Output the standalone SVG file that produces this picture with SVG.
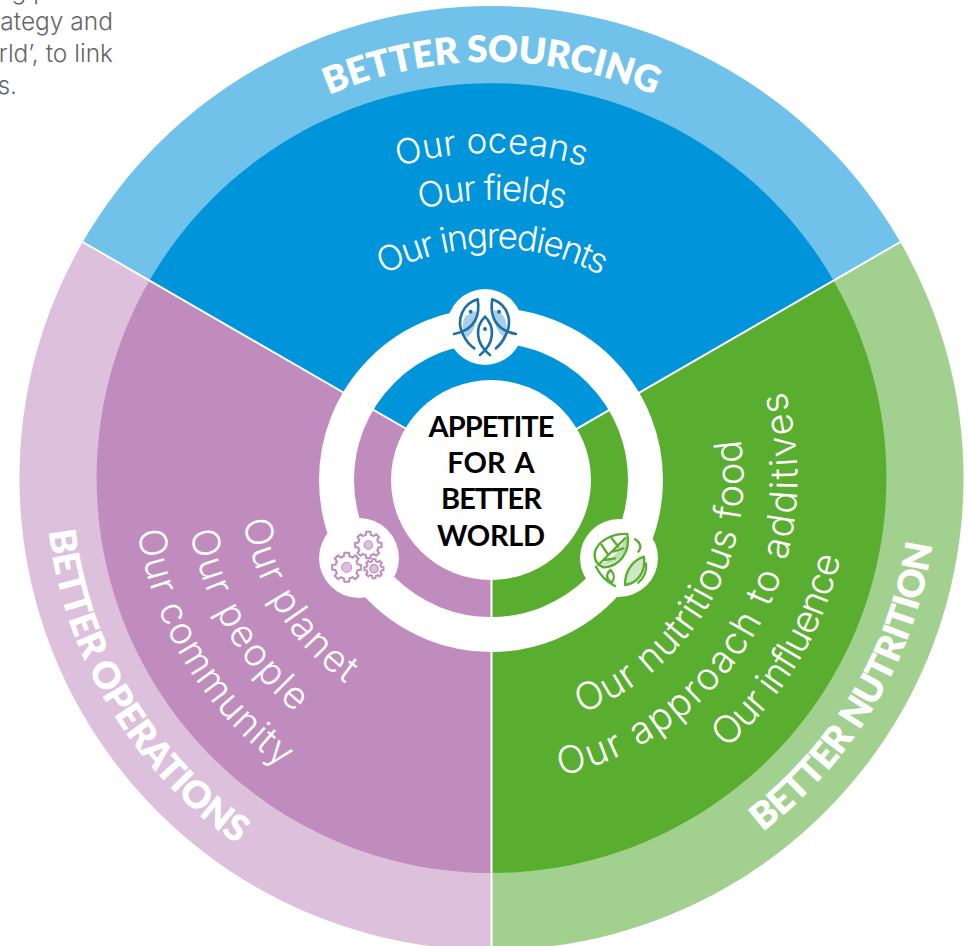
<svg xmlns="http://www.w3.org/2000/svg" xmlns:xlink="http://www.w3.org/1999/xlink" width="969" height="946" viewBox="0 0 969 946">
<style>
.t{fill:#fff;text-anchor:middle}
.head{font-family:"Lato","Open Sans","Liberation Sans",sans-serif;font-weight:800;font-size:37px}
.item{font-family:"Inter","Open Sans","Liberation Sans",sans-serif;font-weight:300;font-size:35px}
.big{font-size:38px}
.centre{font-family:"Lato","Liberation Sans",sans-serif;font-weight:700;font-size:29px;fill:#000;text-anchor:middle}
.intro{font-family:"Inter","Liberation Sans",sans-serif;font-weight:300;font-size:24.5px;fill:#666}
.div{stroke:#fff;stroke-width:2;fill:none}
.fish{fill:none;stroke:#1e6fa5;stroke-width:8;stroke-linecap:round}
.gear{fill:none;stroke:#c08bbd}
.leaf{fill:none;stroke:#59ae2f;stroke-width:7;stroke-linecap:round;stroke-linejoin:round}
</style>
<defs>
<path id="t416" d="M75.5 478A416 416 0 0 1 907.5 478"/>
<path id="t325" d="M166.5 478A325 325 0 0 1 816.5 478"/>
<path id="t278" d="M213.5 478A278 278 0 0 1 769.5 478"/>
<path id="t230" d="M261.5 478A230 230 0 0 1 721.5 478"/>
<path id="b446" d="M45.5 478A446 446 0 0 0 937.5 478"/>
<path id="b358" d="M133.5 478A358 358 0 0 0 849.5 478"/>
<path id="b306" d="M185.5 478A306 306 0 0 0 797.5 478"/>
<path id="b252" d="M239.5 478A252 252 0 0 0 743.5 478"/>
<path id="gearShape" d="M.757 -.189L.988 -.156L.988 .156L.757 .189L.669 .402L.809 .588L.588 .809L.402 .669L.189 .757L.156 .988L-.156 .988L-.189 .757L-.402 .669L-.588 .809L-.809 .588L-.669 .402L-.757 .189L-.988 .156L-.988 -.156L-.757 -.189L-.669 -.402L-.809 -.588L-.588 -.809L-.402 -.669L-.189 -.757L-.156 -.988L.156 -.988L.189 -.757L.402 -.669L.588 -.809L.809 -.588L.669 -.402Z"/>
</defs>
<rect width="969" height="946" fill="#fff"/>
<g id="intro-text" class="intro">
<text x="48" y="-1" text-anchor="end">g p</text>
<text x="113" y="30" text-anchor="end">ategy and</text>
<text x="113" y="62" text-anchor="end">rld’, to link</text>
<text x="17" y="94" text-anchor="end">s.</text>
</g>
<g id="segment-sourcing">
<path d="M491.5 478L82.7 242A472 472 0 0 1 900.3 242Z" fill="#71c2ea"/>
<path d="M491.5 478L149.5 280.5A395 395 0 0 1 833.5 280.5Z" fill="#0095da"/>
<text class="t head" letter-spacing="-.3"><textPath xlink:href="#t416" href="#t416" startOffset="50%">BETTER SOURCING</textPath></text>
<text class="t item"><textPath xlink:href="#t325" href="#t325" startOffset="50%">Our oceans</textPath></text>
<text class="t item" letter-spacing="-1.4"><textPath xlink:href="#t278" href="#t278" startOffset="50%">Our fields</textPath></text>
<text class="t item" letter-spacing="-1.7"><textPath xlink:href="#t230" href="#t230" startOffset="50%">Our ingredients</textPath></text>
</g>
<g id="segment-nutrition">
<path d="M491.5 478L900.3 242A472 472 0 0 1 491.5 950Z" fill="#a2d18f"/>
<path d="M491.5 478L833.5 280.5A395 395 0 0 1 491.5 873Z" fill="#59ae2f"/>
<text class="t head" letter-spacing="-.7" transform="rotate(-59.4 491.5 478)"><textPath xlink:href="#b446" href="#b446" startOffset="50%">BETTER NUTRITION</textPath></text>
<text class="t item big" letter-spacing=".7" transform="rotate(-60 491.5 478)"><textPath xlink:href="#b252" href="#b252" startOffset="50%">Our nutritious food</textPath></text>
<text class="t item big" letter-spacing="1.8" transform="rotate(-60 491.5 478)"><textPath xlink:href="#b306" href="#b306" startOffset="50%">Our approach to additives</textPath></text>
<text class="t item big" letter-spacing="-1" transform="rotate(-59 491.5 478)"><textPath xlink:href="#b358" href="#b358" startOffset="50%">Our influence</textPath></text>
</g>
<g id="segment-operations">
<path d="M491.5 478L491.5 950A472 472 0 0 1 82.7 242Z" fill="#dcc0dc"/>
<path d="M491.5 478L491.5 873A395 395 0 0 1 149.5 280.5Z" fill="#c08bbd"/>
<text class="t head" letter-spacing="-.3" transform="rotate(59 491.5 478)"><textPath xlink:href="#b446" href="#b446" startOffset="50%">BETTER OPERATIONS</textPath></text>
<text class="t item big" letter-spacing="1.5" transform="rotate(57.6 491.5 478)"><textPath xlink:href="#b252" href="#b252" startOffset="50%">Our planet</textPath></text>
<text class="t item big" letter-spacing="1.9" transform="rotate(59.7 491.5 478)"><textPath xlink:href="#b306" href="#b306" startOffset="50%">Our people</textPath></text>
<text class="t item big" letter-spacing="1" transform="rotate(58.6 491.5 478)"><textPath xlink:href="#b358" href="#b358" startOffset="50%">Our community</textPath></text>
</g>
<g id="connectors">
<path class="div" d="M491.5 478L82.7 242M491.5 478L900.3 242M491.5 478V946"/>
</g>
<g id="hub">
<circle cx="491" cy="480" r="154.5" fill="none" stroke="#fff" stroke-width="35"/>
<circle cx="491" cy="480" r="100" fill="#fff"/>
<text class="centre" x="491" y="437" letter-spacing="-1">APPETITE</text>
<text class="centre" x="491" y="473" word-spacing="3">FOR A</text>
<text class="centre" x="491" y="509" letter-spacing="-1">BETTER</text>
<text class="centre" x="491" y="546" letter-spacing="-.3">WORLD</text>
</g>
<g id="icon-fish">
<circle cx="485" cy="327" r="38" fill="#fff"/>
<g transform="translate(430 280) scale(.3333)">
<path d="M106 108C94 130 98 158 110 172C130 160 142 130 138 92Z" fill="#a9cfe8"/>
<path d="M192 90C190 130 200 155 222 172C234 150 232 118 214 100Z" fill="#a9cfe8"/>
<path class="fish" d="M143 58C100 70 75 120 100 165C108 182 118 195 133 205M143 58C150 100 140 150 72 162"/>
<path class="fish" d="M187 58C235 75 250 125 225 170C218 185 210 195 198 205M187 58C180 100 190 150 258 162"/>
<path class="fish" d="M165 110C135 140 135 190 180 225M165 110C195 140 195 190 150 225"/>
<circle cx="122" cy="95" r="6" fill="#1e6fa5"/><circle cx="207" cy="95" r="6" fill="#1e6fa5"/><circle cx="165" cy="147" r="6" fill="#1e6fa5"/>
</g>
</g>
<g id="icon-gears">
<circle cx="359" cy="558" r="40" fill="#fff"/>
<g transform="translate(310 510) scale(.3333)">
<use href="#gearShape" class="gear" transform="translate(175 105) scale(40)" stroke-width=".15"/>
<circle cx="175" cy="105" r="13" fill="#dfc0dc" stroke="#c08bbd" stroke-width="3"/>
<use href="#gearShape" class="gear" transform="translate(110 172) scale(44)" stroke-width=".14"/>
<circle cx="110" cy="172" r="15" fill="#dfc0dc" stroke="#c08bbd" stroke-width="3"/>
<use href="#gearShape" class="gear" transform="translate(192 176) scale(29)" stroke-width=".2"/>
<circle cx="192" cy="176" r="12" fill="#dfc0dc" stroke="#c08bbd" stroke-width="4"/>
</g>
</g>
<g id="icon-leaf">
<circle cx="619" cy="558" r="39" fill="#fff"/>
<g transform="translate(570 510) scale(.3333)">
<path d="M90 165C130 150 150 120 172 72C182 120 150 165 90 165Z" fill="#bfe0b0"/>
<path d="M222 140C190 150 170 180 168 225C200 220 228 190 222 140Z" fill="#cfe7c3"/>
<path class="leaf" d="M172 72C130 70 85 90 75 125C70 150 85 165 100 172C150 170 182 125 172 72ZM85 165C115 135 140 110 165 85M95 105L115 135M125 85L145 110M135 145L105 150M160 115L130 125"/>
<path class="leaf" d="M222 140C190 150 165 180 165 225C200 220 228 190 222 140Z"/>
<path class="leaf" d="M78 170C90 195 110 215 135 228M125 218C105 205 110 190 122 180C135 195 135 205 125 218M195 88C208 95 218 110 205 125M228 160C232 180 222 205 205 218"/>
</g>
</g>
</svg>
